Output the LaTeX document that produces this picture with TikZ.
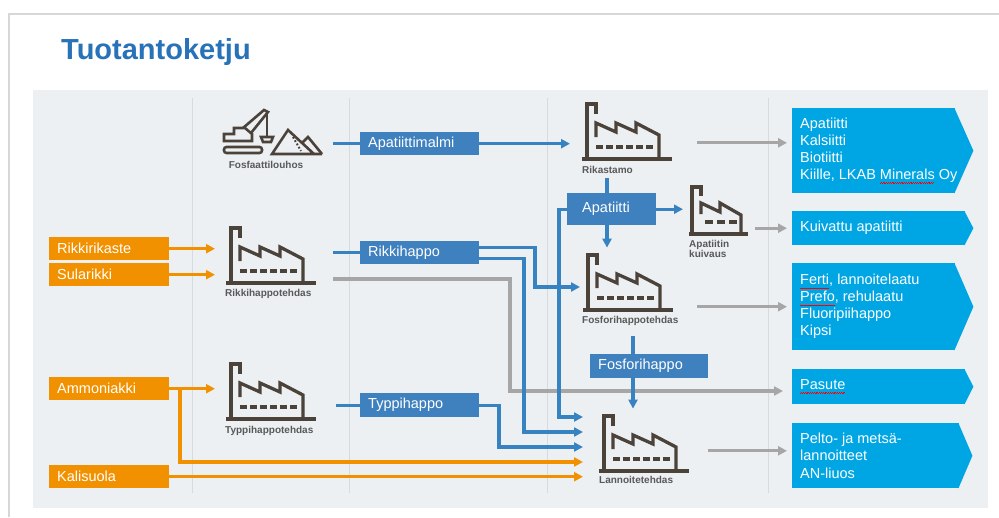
\documentclass[tikz,border=0pt]{standalone}
\usepackage{fontspec}
\setmainfont{Liberation Sans}
\usetikzlibrary{arrows.meta,calc}
\newsavebox\wavebox
\newcommand\redwave[1]{\sbox\wavebox{#1}\rlap{\color{red}\leaders\hbox{\rule[-3.8pt]{0.9pt}{0.6pt}\rule[-3.2pt]{0.9pt}{0.6pt}}\hskip\wd\wavebox}\usebox\wavebox}
\definecolor{titleblue}{RGB}{40,114,184}
\definecolor{panelc}{RGB}{236,240,243}
\definecolor{framec}{RGB}{215,215,215}
\definecolor{divc}{RGB}{214,219,223}
\definecolor{orng}{RGB}{242,145,0}
\definecolor{bboxc}{RGB}{62,129,190}
\definecolor{lblue}{RGB}{55,131,194}
\definecolor{grayc}{RGB}{166,166,166}
\definecolor{cyanc}{RGB}{0,166,228}
\definecolor{iconc}{RGB}{75,66,58}
\definecolor{lblgray}{RGB}{89,89,89}
\pgfdeclarelayer{back}
\pgfdeclarelayer{lines}
\pgfsetlayers{back,lines,main}
\tikzset{
  box/.style={anchor=north west, inner xsep=8pt, inner ysep=0pt, align=left, text=white,
    font=\fontsize{14.5}{17}\selectfont},
  obox/.style={box, fill=orng},
  bbox/.style={box, fill=bboxc},
  outbox/.style={anchor=north west, fill=cyanc, inner sep=0pt},
  outtext/.style={anchor=west, align=left, inner sep=0pt, text=white,
    font=\fontsize{14.5}{17}\selectfont},
  lbl/.style={anchor=west, inner sep=0pt, text=lblgray,
    font=\bfseries\fontsize{10}{10.5}\selectfont},
  iconbox/.style={anchor=south west, inner sep=0pt},
  icon/.style={draw=iconc, line width=3.3pt},
  conn/.style={line width=3.2pt},
  bline/.style={conn, draw=lblue},
  barrow/.style={conn, draw=lblue, -{Triangle[length=9pt,width=9pt]}},
  oline/.style={conn, draw=orng},
  oarrow/.style={conn, draw=orng, -{Triangle[length=9pt,width=9pt]}},
  garrow/.style={conn, draw=grayc, -{Triangle[length=9pt,width=9pt]}},
  factory/.pic={
    \draw[icon] (0,0) -- (90,0);
    \draw[icon] (5,0) -- (5,-55) -- (14,-55) -- (14,-45);
    \draw[icon] (14,-22) -- (14,-36) -- (34,-27) -- (34,-36) -- (54,-27) -- (54,-36) -- (77,-24) -- (77,0);
    \draw[icon, dash pattern=on 7pt off 3pt] (14,-12) -- (72,-12);
  },
  smallfactory/.pic={
    \draw[icon] (0,0) -- (59,0);
    \draw[icon] (3,0) -- (3,-47) -- (12,-47) -- (12,-38);
    \draw[icon] (12,-20) -- (12,-31) -- (31,-22) -- (31,-31) -- (52,-19) -- (52,0);
    \draw[icon, dash pattern=on 8pt off 4pt] (16,-12) -- (48,-12);
  },
  excav/.pic={
    \draw[icon, line width=2.6pt, rounded corners=2.5pt] (2,-8) rectangle (40,-2);
    \draw[icon, line width=2.6pt] (2,-14) -- (2,-21) -- (12,-21) -- (12,-27) -- (23,-27) -- (30,-21) -- (30,-14) -- cycle;
    \draw[icon, line width=2.6pt] (21,-27) -- (42,-45) -- (46,-43) -- (29,-22);
    \draw[icon, line width=2.6pt] (45,-43) -- (45,-18);
    \draw[icon, line width=2.6pt] (39,-18) -- (41,-13) -- (49,-13) -- (51,-18) -- cycle;
    \draw[icon, line width=2.6pt] (100,-1) -- (50,-1) -- (66,-25) -- (92,-1);
    \draw[icon, line width=2.6pt] (80,-12) -- (86,-18) -- (100,-1);
    \draw[icon, line width=2pt, dash pattern=on 1.8pt off 2pt] (71,-18) -- (79,-4);
  }
}
\begin{document}
\begin{tikzpicture}[x=1pt,y=-1pt]
\useasboundingbox (0,0) rectangle (999,517);
\begin{pgfonlayer}{back}
  \fill[white] (0,0) rectangle (999,517);
  \draw[framec, line width=2pt] (9,517) -- (9,14) -- (999,14);
  \fill[panelc] (33,90) rectangle (988,508);
  \foreach \xx in {192,349,547,768} \draw[divc, line width=1pt] (\xx,98) -- (\xx,493);
\end{pgfonlayer}

% title
\node[anchor=base west, inner sep=0pt, text=titleblue, font=\bfseries\fontsize{29}{30}\selectfont] (title) at (61,59) {Tuotantoketju};

% orange inputs
\node[obox, minimum width=120pt, minimum height=23pt, text width=104pt] (rk) at (49,237) {Rikkirikaste};
\node[obox, minimum width=120pt, minimum height=23pt, text width=104pt] (sl) at (49,263) {Sularikki};
\node[obox, minimum width=120pt, minimum height=23pt, text width=104pt] (am) at (49,377) {Ammoniakki};
\node[obox, minimum width=120pt, minimum height=23pt, text width=104pt] (ka) at (49,465) {Kalisuola};

% blue intermediate boxes
\node[bbox, minimum width=119pt, minimum height=23pt, text width=103pt] (apm) at (360,132) {Apatiittimalmi};
\node[bbox, minimum width=119pt, minimum height=23pt, text width=103pt] (rh) at (360,241) {Rikkihappo};
\node[bbox, minimum width=119pt, minimum height=24pt, text width=103pt] (th) at (360,393) {Typpihappo};
\node[bbox, minimum width=89pt, minimum height=32pt, text width=59pt, inner xsep=15pt] (ap) at (567,193) {Apatiitti};
\node[bbox, minimum width=118pt, minimum height=24pt, text width=102pt] (fh) at (590,354) {Fosforihappo};

% icons
\node[iconbox, minimum width=101pt, minimum height=44pt] (fl) at (222,155) {};
\pic at (fl.south west) {excav};
\node[lbl, anchor=center] (fllbl) at (266,165) {Fosfaattilouhos};

\node[iconbox, minimum width=91pt, minimum height=56pt] (rht) at (226,283) {};
\pic at (rht.south west) {factory};
\node[lbl] (rhtlbl) at (225,294) {Rikkihappotehdas};

\node[iconbox, minimum width=91pt, minimum height=56pt] (tht) at (226,419) {};
\pic at (tht.south west) {factory};
\node[lbl] (thtlbl) at (225,431) {Typpihappotehdas};

\node[iconbox, minimum width=91pt, minimum height=54pt] (rik) at (582,159) {};
\pic at (rik.south west) {factory};
\node[lbl] (riklbl) at (582,170) {Rikastamo};

\node[iconbox, minimum width=59pt, minimum height=47pt] (kui) at (689,234) {};
\pic at (kui.south west) {smallfactory};
\node[lbl, anchor=north west, align=left] (kuilbl) at (689,240) {Apatiitin\\kuivaus};

\node[iconbox, minimum width=91pt, minimum height=55pt] (fht) at (583,310) {};
\pic at (fht.south west) {factory};
\node[lbl] (fhtlbl) at (582,321) {Fosforihappotehdas};

\node[iconbox, minimum width=91pt, minimum height=58pt] (lan) at (599,471) {};
\pic at (lan.south west) {factory};
\node[lbl] (lanlbl) at (599,480) {Lannoitetehdas};

% outputs
\node[outbox, minimum width=163pt, minimum height=85pt] (out1) at (792,108) {};
\fill[cyanc] ($(out1.north east)+(-1,0)$) -- ($(out1.east)+(18,0)$) -- ($(out1.south east)+(-1,0)$) -- cycle;
\node[outtext] (out1t) at ($(out1.west)+(8,0)$) {Apatiitti\\Kalsiitti\\Biotiitti\\Kiille, LKAB \redwave{Minerals} Oy};

\node[outbox, minimum width=173pt, minimum height=34pt] (out2) at (792,211) {};
\fill[cyanc] ($(out2.north east)+(-1,0)$) -- ($(out2.east)+(8,0)$) -- ($(out2.south east)+(-1,0)$) -- cycle;
\node[outtext] (out2t) at ($(out2.west)+(8,0)$) {Kuivattu apatiitti};

\node[outbox, minimum width=163pt, minimum height=87pt] (out3) at (792,263) {};
\fill[cyanc] ($(out3.north east)+(-1,0)$) -- ($(out3.east)+(18,0)$) -- ($(out3.south east)+(-1,0)$) -- cycle;
\node[outtext] (out3t) at ($(out3.west)+(8,0)$) {\redwave{Ferti}, lannoitelaatu\\\redwave{Prefo}, rehulaatu\\Fluoripiihappo\\Kipsi};

\node[outbox, minimum width=173pt, minimum height=35pt] (out4) at (792,369) {};
\fill[cyanc] ($(out4.north east)+(-1,0)$) -- ($(out4.east)+(8,0)$) -- ($(out4.south east)+(-1,0)$) -- cycle;
\node[outtext] (out4t) at ($(out4.west)+(8,0)$) {\redwave{Pasute}};

\node[outbox, minimum width=167pt, minimum height=65pt] (out5) at (792,423) {};
\fill[cyanc] ($(out5.north east)+(-1,0)$) -- ($(out5.east)+(13,0)$) -- ($(out5.south east)+(-1,0)$) -- cycle;
\node[outtext, font=\fontsize{14.5}{17.5}\selectfont] (out5t) at ($(out5.west)+(8,0)$) {Pelto- ja metsä-\\lannoitteet\\AN-liuos};

% helper coordinates
\coordinate (apx) at (607,0);
\coordinate (fx) at (633,0);
\coordinate (brh1) at (535,287);
\coordinate (brh2) at (524,432);
\coordinate (bth) at (499,447);
\coordinate (bap) at (559,417);
\coordinate (bam) at (180,462);
\coordinate (gbend) at (510,391);
\coordinate (g1) at ($(rik.east)+(24,11)$);
\coordinate (g4) at ($(rht.south east)+(16,-4)$);
\coordinate (g5) at ($(lan.east)+(18,9)$);

\begin{pgfonlayer}{lines}
  % gray
  \draw[garrow, shorten >=5pt] (g1) -- (g1 -| out1.west);
  \draw[garrow, shorten <=7pt, shorten >=5pt] (kui.east |- out2.west) -- (out2.west);
  \draw[garrow, shorten <=23pt, shorten >=5pt] (fht.east |- out3.west) -- (out3.west);
  \draw[garrow, shorten >=9pt] (g4) -| (gbend) -- (gbend -| out4.west);
  \draw[garrow, shorten >=5pt] (g5) -- (g5 -| out5.west);
  % orange
  \draw[oarrow, shorten >=11pt] (rk.east) -- (rk.east -| rht.west);
  \draw[oarrow, shorten >=11pt] (sl.east) -- (sl.east -| rht.west);
  \draw[oarrow, shorten >=11pt] (am.east) -- (am.east -| tht.west);
  \draw[oarrow, shorten >=16pt] (am.east -| bam) -- (bam) -- (bam -| lan.west);
  \draw[oarrow, shorten >=16pt] (ka.east) -- (ka.east -| lan.west);
  % blue
  \draw[bline, shorten <=10pt] (fl.east |- apm.west) -- (apm.west);
  \draw[barrow, shorten >=12pt] (apm.east) -- (apm.east -| rik.west);
  \draw[bline, shorten <=16pt] (rht.east |- rh.west) -- (rh.west);
  \draw[barrow, shorten >=3pt] ($(rh.east)+(0,-5.5)$) -| (brh1) -- (brh1 -| fht.west);
  \draw[barrow, shorten >=16pt] ($(rh.east)+(0,5.5)$) -| (brh2) -- (brh2 -| lan.west);
  \draw[bline, shorten <=19pt] (tht.east |- th.west) -- (th.west);
  \draw[barrow, shorten >=16pt] (th.east) -| (bth) -- (bth -| lan.west);
  \draw[bline, shorten <=19pt] (apx |- rik.south) -- (apx |- ap.north);
  \draw[barrow, shorten >=7pt] (apx |- ap.south) -- (apx |- fht.north);
  \draw[barrow, shorten >=6pt] (ap.east) -- (ap.east -| kui.west);
  \draw[barrow, shorten >=16pt] (ap.west) -| (bap) -- (bap -| lan.west);
  \draw[barrow, shorten <=26pt, shorten >=4pt] (fx |- fht.south) -- (fx |- lan.north);
\end{pgfonlayer}
\end{tikzpicture}
\end{document}
